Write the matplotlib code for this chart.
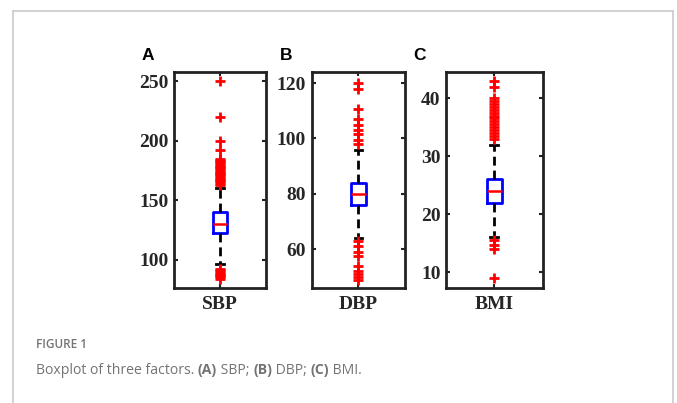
import matplotlib
matplotlib.use("Agg")
import matplotlib.pyplot as plt
from matplotlib.lines import Line2D

# box statistics
names = ["SBP", "DBP", "BMI"]
panel_labels = ["A", "B", "C"]
q1 = [122, 76, 22]
med = [130, 80, 24]
q3 = [140, 84, 26]
whislo = [96, 64, 16]
whishi = [160, 96, 32]
fliers_sbp = [84, 85, 86, 87, 88, 89, 90, 91, 92,
              163, 164, 165, 166, 167, 168, 169, 170, 171, 172, 173, 174, 175,
              176, 177, 178, 179, 180, 181, 182, 183, 184, 185, 192, 200,
              220, 250]
fliers_dbp = [49, 50, 51, 52, 54, 57.5, 59, 61, 63,
              98, 99.5, 101.5, 103, 105, 107, 110.5, 118, 120]
fliers_bmi = [9, 14, 14.7, 15.5,
              33, 33.5, 34, 34.5, 35, 35.5, 36, 36.5, 37, 37.5, 38, 38.5,
              39, 39.5, 40, 42, 43]
fliers = [fliers_sbp, fliers_dbp, fliers_bmi]

ylims = [(76, 258), (46, 124), (7.3, 44.5)]
yticks = [[100, 150, 200, 250], [60, 80, 100, 120], [10, 20, 30, 40]]
axes_pos = [(174, 92), (311.7, 93.3), (446, 96.7)]

W, H = 677, 403
fig = plt.figure(figsize=(W / 100, H / 100), dpi=100)

# light gray frame around the figure panel
frame = "#c9c9c9"
fig.add_artist(Line2D([13 / W, 673 / W], [1 - 11 / H, 1 - 11 / H], color=frame, lw=1.2))
fig.add_artist(Line2D([13 / W, 13 / W], [0, 1 - 11 / H], color=frame, lw=1.2))
fig.add_artist(Line2D([673 / W, 673 / W], [0, 1 - 11 / H], color=frame, lw=1.2))

for i in range(3):
    left, width = axes_pos[i]
    ax = fig.add_axes([left / W, (H - 288) / H, width / W, 216 / H])
    stats = [dict(med=med[i], q1=q1[i], q3=q3[i], whislo=whislo[i],
                  whishi=whishi[i], fliers=fliers[i], label=names[i])]
    ax.bxp(stats, positions=[1], widths=0.16, showfliers=True,
           boxprops=dict(color="#0000ff", lw=2),
           medianprops=dict(color="#ff0000", lw=1.8),
           whiskerprops=dict(color="black", lw=2, ls=(0, (3.2, 1.8))),
           capprops=dict(color="black", lw=2),
           capwidths=0.08,
           flierprops=dict(marker="+", markeredgecolor="#ff0000",
                           markersize=7, markeredgewidth=2, ls="none"))
    ax.set_xlim(0.5, 1.5)
    ax.set_ylim(*ylims[i])
    ax.set_yticks(yticks[i])
    ax.set_xticks([1])
    ax.set_xticklabels([names[i]])
    ax.tick_params(direction="in", length=3, width=1.5, color="#222222",
                   left=True, right=True, top=True, bottom=True, pad=4)
    for lab in ax.get_yticklabels() + ax.get_xticklabels():
        lab.set_fontfamily("Liberation Serif")
        lab.set_fontweight("bold")
        lab.set_color("#262626")
        lab.set_fontsize(14)
    ax.tick_params(axis="x", pad=6)
    for s in ax.spines.values():
        s.set_linewidth(2)
        s.set_color("#222222")
    fig.text((left - 26) / W, 1 - 55 / H, panel_labels[i], fontsize=12.5,
             fontweight="bold", family="Liberation Sans", ha="center", va="center")

# caption
gray = "#737373"
fig.text(36 / W, 1 - 345 / H, "FIGURE 1", fontsize=8.5, color=gray,
         family="Open Sans", fontweight="semibold", va="center")

pieces = [("Boxplot of three factors. ", "normal"), ("(A)", "bold"), (" SBP; ", "normal"),
          ("(B)", "bold"), (" DBP; ", "normal"), ("(C)", "bold"), (" BMI.", "normal")]
fig.canvas.draw()
renderer = fig.canvas.get_renderer()
x = 36
for txt, wt in pieces:
    t = fig.text(x / W, 1 - 370 / H, txt, fontsize=10.1, color=gray,
                 family="Open Sans", fontweight=wt, va="center")
    bb = t.get_window_extent(renderer=renderer)
    x += bb.width

fig.savefig("out.png", dpi=100)
